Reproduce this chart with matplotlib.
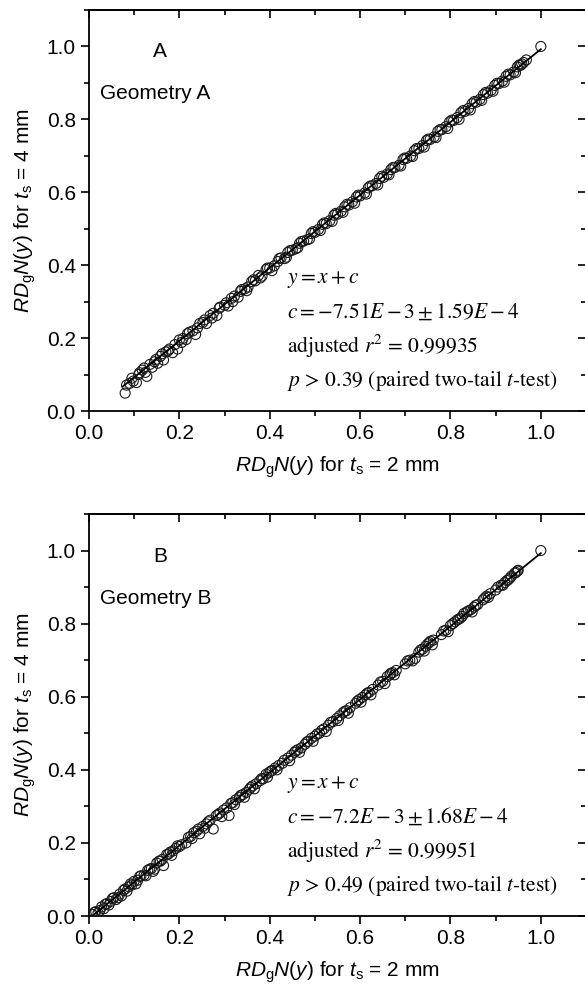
import matplotlib
matplotlib.use("Agg")
import matplotlib.pyplot as plt
from matplotlib.ticker import MultipleLocator, FormatStrFormatter

plt.rcParams['font.family'] = ['Liberation Sans', 'DejaVu Sans']
plt.rcParams['mathtext.fontset'] = 'custom'
plt.rcParams['mathtext.rm'] = 'Liberation Sans'
plt.rcParams['mathtext.it'] = 'Liberation Sans:italic'
plt.rcParams['mathtext.bf'] = 'Liberation Sans:bold'

# ---------------- data ----------------
a_x = [0.080, 0.083, 0.090, 0.098, 0.105, 0.110, 0.118, 0.125, 0.128, 0.135, 0.140, 0.148, 0.152, 0.158,
       0.165, 0.170, 0.178, 0.185, 0.190, 0.196, 0.200, 0.208, 0.215, 0.222, 0.230, 0.236, 0.245, 0.252,
       0.260, 0.268, 0.275, 0.283, 0.290, 0.300, 0.308, 0.315, 0.322, 0.330, 0.338, 0.345, 0.352, 0.360,
       0.368, 0.375, 0.383, 0.392, 0.400, 0.410, 0.418, 0.425, 0.433, 0.440, 0.450, 0.458, 0.466, 0.475,
       0.483, 0.492, 0.500, 0.508, 0.517, 0.525, 0.533, 0.542, 0.550, 0.558, 0.566, 0.575, 0.583, 0.592,
       0.600, 0.610, 0.618, 0.627, 0.635, 0.643, 0.652, 0.660, 0.668, 0.677, 0.686, 0.695, 0.703, 0.712,
       0.720, 0.730, 0.738, 0.747, 0.755, 0.764, 0.772, 0.781, 0.790, 0.798, 0.807, 0.815, 0.823, 0.832,
       0.840, 0.848, 0.857, 0.865, 0.873, 0.882, 0.890, 0.898, 0.907, 0.915, 0.923, 0.932, 0.940, 0.948,
       0.955, 0.962, 0.968, 1.000]
a_y = [0.049, 0.071, 0.076, 0.082, 0.078, 0.100, 0.112, 0.106, 0.095, 0.128, 0.120, 0.141, 0.131, 0.150,
       0.140, 0.162, 0.170, 0.160, 0.182, 0.170, 0.195, 0.199, 0.196, 0.216, 0.220, 0.210, 0.240, 0.243,
       0.240, 0.262, 0.268, 0.262, 0.285, 0.290, 0.288, 0.309, 0.315, 0.312, 0.333, 0.335, 0.340, 0.355,
       0.357, 0.372, 0.370, 0.388, 0.392, 0.398, 0.410, 0.420, 0.418, 0.435, 0.441, 0.445, 0.460, 0.466,
       0.470, 0.487, 0.490, 0.498, 0.512, 0.514, 0.522, 0.537, 0.540, 0.548, 0.560, 0.565, 0.574, 0.587,
       0.590, 0.598, 0.612, 0.618, 0.624, 0.638, 0.641, 0.650, 0.662, 0.668, 0.674, 0.690, 0.693, 0.700,
       0.714, 0.720, 0.728, 0.742, 0.745, 0.752, 0.767, 0.772, 0.780, 0.793, 0.797, 0.805, 0.818, 0.822,
       0.830, 0.843, 0.847, 0.855, 0.868, 0.872, 0.880, 0.893, 0.898, 0.905, 0.918, 0.922, 0.930, 0.944,
       0.948, 0.956, 0.963, 1.000]
a2_x = [0.095, 0.112, 0.122, 0.145, 0.162, 0.175, 0.205, 0.218, 0.240, 0.256, 0.272, 0.288, 0.304, 0.318,
        0.335, 0.349, 0.364, 0.379, 0.395, 0.405, 0.421, 0.437, 0.445, 0.462, 0.470, 0.488, 0.496, 0.512,
        0.521, 0.538, 0.546, 0.562, 0.571, 0.588, 0.596, 0.614, 0.622, 0.639, 0.648, 0.664, 0.673, 0.690,
        0.699, 0.716, 0.725, 0.742, 0.751, 0.768, 0.777, 0.794, 0.803, 0.819, 0.828, 0.844, 0.853, 0.869,
        0.878, 0.894, 0.903, 0.919, 0.928, 0.944, 0.952, 0.958]
a2_y = [0.090, 0.105, 0.118, 0.135, 0.157, 0.165, 0.188, 0.212, 0.228, 0.250, 0.255, 0.282, 0.297, 0.300,
        0.328, 0.330, 0.360, 0.365, 0.392, 0.385, 0.418, 0.422, 0.440, 0.448, 0.465, 0.472, 0.492, 0.495,
        0.516, 0.520, 0.542, 0.545, 0.567, 0.570, 0.592, 0.595, 0.617, 0.620, 0.644, 0.648, 0.668, 0.672,
        0.694, 0.698, 0.720, 0.724, 0.746, 0.750, 0.772, 0.775, 0.798, 0.800, 0.824, 0.826, 0.849, 0.852,
        0.874, 0.877, 0.899, 0.902, 0.924, 0.928, 0.949, 0.952]
a_c = -7.51e-3
a_fit_x = [0.075, 1.0]

b_x = [0.008, 0.015, 0.020, 0.028, 0.033, 0.040, 0.048, 0.055, 0.060, 0.068, 0.072, 0.080, 0.088, 0.095,
       0.100, 0.108, 0.115, 0.122, 0.130, 0.138, 0.145, 0.150, 0.158, 0.165, 0.172, 0.180, 0.186, 0.192,
       0.200, 0.215, 0.225, 0.232, 0.238, 0.245, 0.252, 0.260, 0.268, 0.275, 0.282, 0.290, 0.298, 0.305,
       0.310, 0.318, 0.325, 0.333, 0.340, 0.348, 0.355, 0.362, 0.370, 0.378, 0.385, 0.392, 0.398, 0.405,
       0.412, 0.420, 0.428, 0.440, 0.448, 0.455, 0.462, 0.470, 0.478, 0.485, 0.492, 0.500, 0.510, 0.520,
       0.530, 0.540, 0.548, 0.555, 0.562, 0.570, 0.578, 0.590, 0.598, 0.605, 0.612, 0.620, 0.628, 0.640,
       0.650, 0.660, 0.666, 0.672, 0.680, 0.700, 0.710, 0.722, 0.730, 0.738, 0.745, 0.750, 0.756, 0.762,
       0.780, 0.790, 0.800, 0.810, 0.815, 0.822, 0.830, 0.836, 0.845, 0.852, 0.860, 0.872, 0.880, 0.888,
       0.900, 0.912, 0.920, 0.928, 0.935, 0.942, 0.948, 1.000]
b_y = [0.004, 0.012, 0.008, 0.025, 0.020, 0.034, 0.040, 0.050, 0.045, 0.060, 0.055, 0.074, 0.080, 0.085,
       0.095, 0.098, 0.110, 0.112, 0.125, 0.130, 0.128, 0.145, 0.150, 0.138, 0.168, 0.175, 0.178, 0.185,
       0.190, 0.200, 0.218, 0.228, 0.232, 0.225, 0.245, 0.252, 0.262, 0.238, 0.275, 0.282, 0.290, 0.296,
       0.275, 0.310, 0.318, 0.325, 0.332, 0.338, 0.347, 0.356, 0.362, 0.370, 0.375, 0.388, 0.392, 0.398,
       0.405, 0.412, 0.418, 0.432, 0.440, 0.448, 0.455, 0.460, 0.470, 0.478, 0.486, 0.492, 0.500, 0.512,
       0.522, 0.532, 0.540, 0.548, 0.556, 0.562, 0.570, 0.582, 0.592, 0.598, 0.605, 0.612, 0.620, 0.632,
       0.642, 0.655, 0.660, 0.666, 0.672, 0.690, 0.700, 0.705, 0.722, 0.730, 0.738, 0.745, 0.752, 0.755,
       0.770, 0.782, 0.795, 0.805, 0.810, 0.815, 0.828, 0.832, 0.838, 0.845, 0.852, 0.865, 0.875, 0.882,
       0.892, 0.905, 0.912, 0.920, 0.930, 0.938, 0.944, 1.000]
b2_x = [0.012, 0.024, 0.036, 0.044, 0.052, 0.064, 0.076, 0.084, 0.092, 0.104, 0.112, 0.126, 0.134, 0.142,
        0.155, 0.162, 0.176, 0.183, 0.196, 0.205, 0.220, 0.228, 0.242, 0.256, 0.264, 0.286, 0.294, 0.314,
        0.322, 0.336, 0.344, 0.358, 0.366, 0.382, 0.395, 0.402, 0.416, 0.432, 0.444, 0.458, 0.466, 0.482,
        0.496, 0.505, 0.515, 0.525, 0.535, 0.552, 0.566, 0.574, 0.594, 0.602, 0.616, 0.624, 0.645, 0.655,
        0.668, 0.676, 0.705, 0.716, 0.734, 0.742, 0.753, 0.760, 0.785, 0.795, 0.805, 0.818, 0.826, 0.840,
        0.848, 0.856, 0.876, 0.884, 0.905, 0.916, 0.925, 0.932, 0.945, 0.950]
b2_y = [0.010, 0.015, 0.032, 0.030, 0.048, 0.050, 0.070, 0.068, 0.088, 0.088, 0.108, 0.110, 0.128, 0.122,
        0.150, 0.155, 0.170, 0.166, 0.192, 0.195, 0.215, 0.212, 0.238, 0.240, 0.258, 0.278, 0.272, 0.308,
        0.305, 0.330, 0.325, 0.352, 0.348, 0.376, 0.380, 0.396, 0.400, 0.426, 0.425, 0.452, 0.448, 0.476,
        0.478, 0.498, 0.508, 0.505, 0.530, 0.535, 0.560, 0.555, 0.588, 0.585, 0.610, 0.605, 0.640, 0.636,
        0.664, 0.660, 0.698, 0.698, 0.728, 0.725, 0.748, 0.742, 0.780, 0.778, 0.800, 0.812, 0.820, 0.835,
        0.832, 0.850, 0.870, 0.872, 0.900, 0.905, 0.918, 0.925, 0.940, 0.946]
b_c = -7.2e-3
b_fit_x = [0.005, 1.0]

panel_letters = ["A", "B"]
geometry_labels = ["Geometry A", "Geometry B"]
fit_texts = [
    [r"$y = x + c$", r"$c = -7.51E-3 \pm 1.59E-4$", r"adjusted $r^2$ = 0.99935",
     r"$p$ > 0.39 (paired two-tail $t$-test)"],
    [r"$y = x + c$", r"$c = -7.2E-3 \pm 1.68E-4$", r"adjusted $r^2$ = 0.99951",
     r"$p$ > 0.49 (paired two-tail $t$-test)"],
]
xlabel = r"$\mathit{RD}_{\mathrm{g}}\mathit{N(y)}$ for $\mathit{t}_{\mathrm{s}}$ = 2 mm"
ylabel = r"$\mathit{RD}_{\mathrm{g}}\mathit{N(y)}$ for $\mathit{t}_{\mathrm{s}}$ = 4 mm"

# ---------------- figure ----------------
W, H = 585, 997
fig = plt.figure(figsize=(W / 100, H / 100), dpi=100)

axes_px = [(89, 10, 586, 411), (89, 514, 586, 916)]  # left, top, right, bottom in px
datasets = [(a_x + a2_x, a_y + a2_y, a_c, a_fit_x), (b_x + b2_x, b_y + b2_y, b_c, b_fit_x)]

for i, ((l, t, r, b), (xs, ys, c, fx)) in enumerate(zip(axes_px, datasets)):
    ax = fig.add_axes([l / W, (H - b) / H, (r - l) / W, (b - t) / H])
    ax.set_xlim(0, 1.1)
    ax.set_ylim(0, 1.1)
    ax.scatter(xs, ys, s=52, facecolors='none', edgecolors='#1a1a1a', linewidths=0.8, zorder=3)
    ax.plot(fx, [v + c for v in fx], color='black', lw=1.3, zorder=4)

    for sp in ax.spines.values():
        sp.set_linewidth(1.3)
    for axis in (ax.xaxis, ax.yaxis):
        axis.set_major_locator(MultipleLocator(0.2))
        axis.set_minor_locator(MultipleLocator(0.1))
        axis.set_major_formatter(FormatStrFormatter('%.1f'))
    ax.tick_params(which='both', direction='out', width=1.2, labelsize=15)
    ax.tick_params(which='major', length=6)
    ax.tick_params(which='minor', length=3.5)

    secx = ax.secondary_xaxis('top')
    secy = ax.secondary_yaxis('right')
    for sec, axis in ((secx, secx.xaxis), (secy, secy.yaxis)):
        axis.set_major_locator(MultipleLocator(0.2))
        axis.set_minor_locator(MultipleLocator(0.1))
        sec.tick_params(which='both', direction='in', width=1.2, labeltop=False, labelright=False)
        sec.tick_params(which='major', length=6)
        sec.tick_params(which='minor', length=3.5)
        for sp in sec.spines.values():
            sp.set_linewidth(1.3)

    ax.set_xlabel(xlabel, fontsize=15, labelpad=8)
    ax.set_ylabel(ylabel, fontsize=15, labelpad=6)

    ax.text(0.157, 0.985, panel_letters[i], fontsize=15, ha='center', va='center')
    ax.text(0.024, 0.87, geometry_labels[i], fontsize=15, ha='left', va='center')

    for k, (txt, yy) in enumerate(zip(fit_texts[i], [0.36, 0.27, 0.177, 0.083])):
        ax.text(0.438, yy, txt, fontsize=15.5, ha='left', va='center',
                family=['STIXGeneral', 'Liberation Serif'], math_fontfamily='stix')

fig.savefig("out.png", dpi=100)
